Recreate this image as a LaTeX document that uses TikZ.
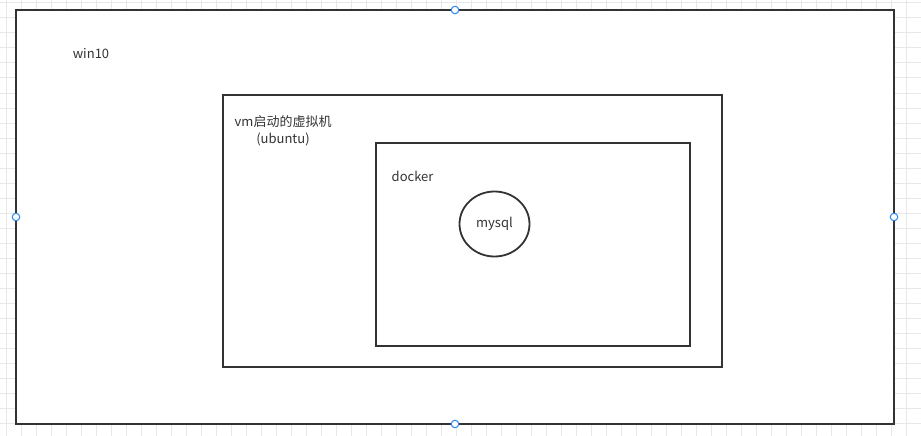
\documentclass[tikz,border=0pt]{standalone}
\usepackage{fontspec}
\setmainfont{Noto Sans CJK SC}
\usetikzlibrary{shapes.geometric}
\definecolor{gridline}{RGB}{232, 232, 232}
\definecolor{frame}{RGB}{51, 51, 51}
\definecolor{handle}{RGB}{41, 135, 245}
\tikzset{
  box/.style={draw=frame, line width=1.8pt},
  label/.style={font=\fontsize{13}{16}\selectfont, text=frame, inner sep=0pt},
  knob/.style={circle, draw=handle, fill=white, line width=1pt, minimum size=7.5pt, inner sep=0pt}
}

\begin{document}
\begin{tikzpicture}[x=1pt, y=-1pt]
            \useasboundingbox (0, 0) rectangle (921, 436);
            \fill[white] (0, 0) rectangle (921, 436);
            \foreach \gx in {6, 21, ..., 921} \draw[gridline, line width=1pt] (\gx, 0) -- (\gx, 436);
            \foreach \gy in {3, 18, ..., 436} \draw[gridline, line width=1pt] (0, \gy) -- (921, \gy);
            % win10
            \filldraw[box, fill=white] ( 16, 10) rectangle (894, 424);
            \node[label] (win) at ( 91, 54) {win10};
            % vm
            \draw[box] (223, 95) rectangle (722, 367);
            \node[label, anchor=west] (vm) at (234.5, 122) {vm启动的虚拟机};
            \node[label] (ubuntu) at (283, 139) {(ubuntu)};
            % docker
            \draw[box] (376, 143) rectangle (690, 346);
            \node[label, anchor=west] (docker) at (391.5, 176) {docker};
            \node[label, ellipse, draw=frame, line width=1.8pt, minimum width=70pt, minimum height=65pt] (mysql) at (494.5, 224) {mysql};
            % handles
            \node[knob] (hn) at (455, 10) {};
            \node[knob] (hw) at ( 16, 217) {};
            \node[knob] (he) at (894, 217) {};
            \node[knob] (hs) at (455, 424) {};
        \end{tikzpicture}
\end{document}
